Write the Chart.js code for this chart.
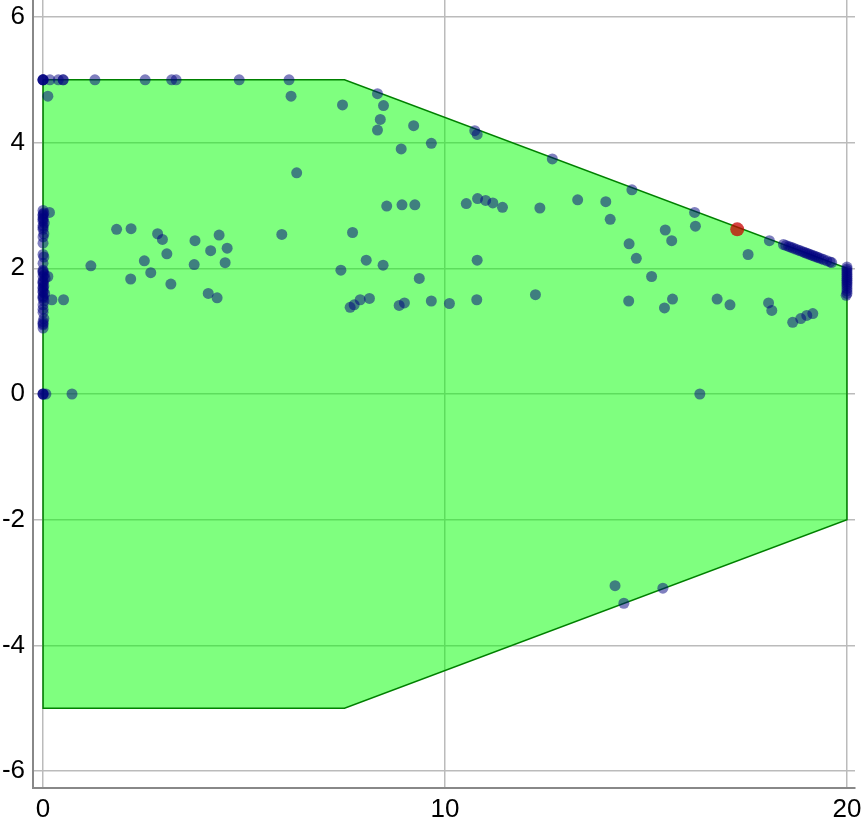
<!DOCTYPE html>
<html>
<head>
<meta charset="utf-8">
<script src="https://cdn.jsdelivr.net/npm/chart.js@4/dist/chart.umd.min.js"></script>
<style>
  html, body { margin: 0; padding: 0; background: #fff; }
  #wrap { width: 865px; height: 823px; }
</style>
</head>
<body>
<div id="wrap"><canvas id="c" width="865" height="823"></canvas></div>
<script>
// Feasible region polygon vertices (closed)
const polyX = [0, 7.5, 20, 20, 7.5, 0, 0];
const polyY = [5, 5, 2, -2, -5, -5, 5];

// Highlighted (red) point
const redX = [17.27];
const redY = [2.62];

// Sample points (blue)
const blueX = [
  0, 0, 0, 0, 0.17, 0.38, 0.5, 0.5, 1.29, 2.54, 3.2, 3.31, 4.88, 6.12,
  0.12, 6.17, 6.31, 0.16, 1.83, 2.19, 2.85, 2.97, 3.78, 4.38, 4.58, 4.17, 5.94, 3.08,
  2.52, 1.19, 3.76, 4.53, 2.68, 2.18, 3.18, 4.11, 4.33, 0.22, 0.51,
  8.32, 7.45, 8.47, 8.39, 8.32, 9.22, 9.66, 8.91, 10.74, 10.80, 12.67,
  8.55, 8.93, 9.25, 10.53, 10.81, 11.01, 11.19, 11.43, 12.36, 7.70,
  8.04, 8.46, 7.41, 10.80, 9.36, 8.12, 7.89, 7.74, 7.64, 8.99, 8.86, 9.66, 10.11, 10.79, 12.25,
  14.65, 13.30, 14.00, 14.11, 16.21, 16.23, 15.48, 15.64, 14.58, 14.76, 15.14, 17.54, 18.07,
  14.57, 15.66, 15.46, 16.77, 17.09, 18.05, 18.13, 18.65, 18.85, 19.00, 19.15, 16.34,
  14.23, 14.45, 15.42,
  0, 0, 0, 0.07, 0.72,
  18.42, 18.48, 18.55, 18.60, 18.66, 18.72, 18.78, 18.84, 18.90, 18.95, 19.00,
  19.05, 19.10, 19.15, 19.20, 19.25, 19.30, 19.36, 19.42, 19.50, 19.58, 19.62,
  20, 20, 20, 20, 20, 20, 20, 20, 20, 20, 20, 20, 20, 20, 19.98,
  0, 0.02, 0, 0, 0.03, 0, 0, 0.02, 0, 0, 0, 0.02, 0, 0, 0, 0.03, 0, 0.05, 0,
  0, 0.02, 0, 0, 0.04, 0, 0, 0.02, 0, 0, 0, 0.02, 0, 0, 0, 0.12,
  0, 0, 0, 0, 0, 0, 0, 0, 0, 0
];
const blueY = [
  5, 5, 5, 5, 5, 5, 5, 5, 5, 5, 5, 5, 5, 5,
  4.74, 4.74, 3.52, 2.89, 2.62, 2.63, 2.55, 2.46, 2.44, 2.53, 2.32, 2.28, 2.54, 2.23,
  2.12, 2.04, 2.06, 2.09, 1.93, 1.83, 1.75, 1.60, 1.53, 1.50, 1.50,
  4.78, 4.60, 4.59, 4.37, 4.20, 4.27, 3.99, 3.90, 4.19, 4.13, 3.74,
  2.99, 3.01, 3.01, 3.03, 3.11, 3.08, 3.04, 2.97, 2.96, 2.57,
  2.13, 2.05, 1.97, 2.13, 1.84, 1.52, 1.50, 1.42, 1.38, 1.45, 1.41, 1.48, 1.44, 1.50, 1.58,
  3.25, 3.09, 3.06, 2.78, 2.89, 2.67, 2.61, 2.44, 2.39, 2.16, 1.87, 2.22, 2.44,
  1.48, 1.51, 1.37, 1.51, 1.42, 1.45, 1.33, 1.14, 1.20, 1.25, 1.28, 0,
  -3.05, -3.33, -3.09,
  0, 0, 0, 0, 0,
  2.379, 2.365, 2.348, 2.336, 2.322, 2.307, 2.293, 2.278, 2.264, 2.252, 2.24,
  2.228, 2.216, 2.204, 2.192, 2.18, 2.168, 2.154, 2.139, 2.12, 2.101, 2.091,
  2.02, 1.99, 1.96, 1.93, 1.90, 1.87, 1.84, 1.81, 1.78, 1.75, 1.72, 1.68, 1.64, 1.60, 1.57,
  2.92, 2.88, 2.84, 2.78, 2.72, 2.68, 2.62, 2.55, 2.50, 2.40, 2.22, 2.18, 2.08, 1.97, 1.93, 1.90, 1.87, 1.84, 1.80,
  1.76, 1.72, 1.68, 1.64, 1.60, 1.56, 1.52, 1.48, 1.42, 1.35, 1.30, 1.20, 1.15, 1.10, 1.05, 1.87,
  2.86, 2.80, 2.75, 2.65, 1.95, 1.78, 1.70, 1.62, 1.54, 1.12
];

const xTicks = [0, 10, 20];
const yTicks = [-6, -4, -2, 0, 2, 4, 6];

const zip = (xs, ys) => xs.map((x, i) => ({ x: x, y: ys[i] }));

const tickFont = { family: "'Liberation Sans', Arial, Helvetica, sans-serif", size: 26 };

new Chart(document.getElementById('c'), {
  type: 'scatter',
  data: {
    datasets: [
      {
        label: 'best',
        data: zip(redX, redY),
        backgroundColor: 'rgba(200,0,0,0.75)',
        borderWidth: 0,
        pointRadius: 7,
        hoverRadius: 0,
        order: 0
      },
      {
        label: 'samples',
        data: zip(blueX, blueY),
        backgroundColor: 'rgba(0,0,128,0.5)',
        borderWidth: 0,
        pointRadius: 5.5,
        hoverRadius: 0,
        order: 1
      },
      {
        label: 'region',
        data: zip(polyX, polyY),
        showLine: true,
        fill: 'shape',
        backgroundColor: 'rgba(0,255,0,0.5)',
        borderColor: '#008000',
        borderWidth: 1.5,
        pointRadius: 0,
        hoverRadius: 0,
        tension: 0,
        order: 2
      }
    ]
  },
  options: {
    responsive: false,
    animation: false,
    devicePixelRatio: 1,
    events: [],
    layout: { autoPadding: false, padding: { left: 0, right: 10, top: 0, bottom: 0 } },
    plugins: { legend: { display: false }, tooltip: { enabled: false } },
    scales: {
      x: {
        type: 'linear',
        min: -0.25,
        max: 20.2,
        afterBuildTicks: (s) => { s.ticks = xTicks.map(v => ({ value: v })); },
        afterFit: (s) => { s.height = 35; s.paddingLeft = 0; s.paddingRight = 0; },
        grid: { color: '#bbbbbb', lineWidth: 1.5, drawTicks: false },
        border: { color: '#888888', width: 2 },
        ticks: { color: '#000', font: tickFont, padding: 6, maxRotation: 0 }
      },
      y: {
        type: 'linear',
        min: -6.27,
        max: 6.27,
        afterBuildTicks: (s) => { s.ticks = yTicks.map(v => ({ value: v })); },
        afterFit: (s) => { s.width = 33; s.paddingTop = 0; s.paddingBottom = 0; },
        grid: { color: '#bbbbbb', lineWidth: 1.5, drawTicks: false },
        border: { color: '#888888', width: 2 },
        ticks: { color: '#000', font: tickFont, padding: 8 }
      }
    }
  }
});
</script>
</body>
</html>
